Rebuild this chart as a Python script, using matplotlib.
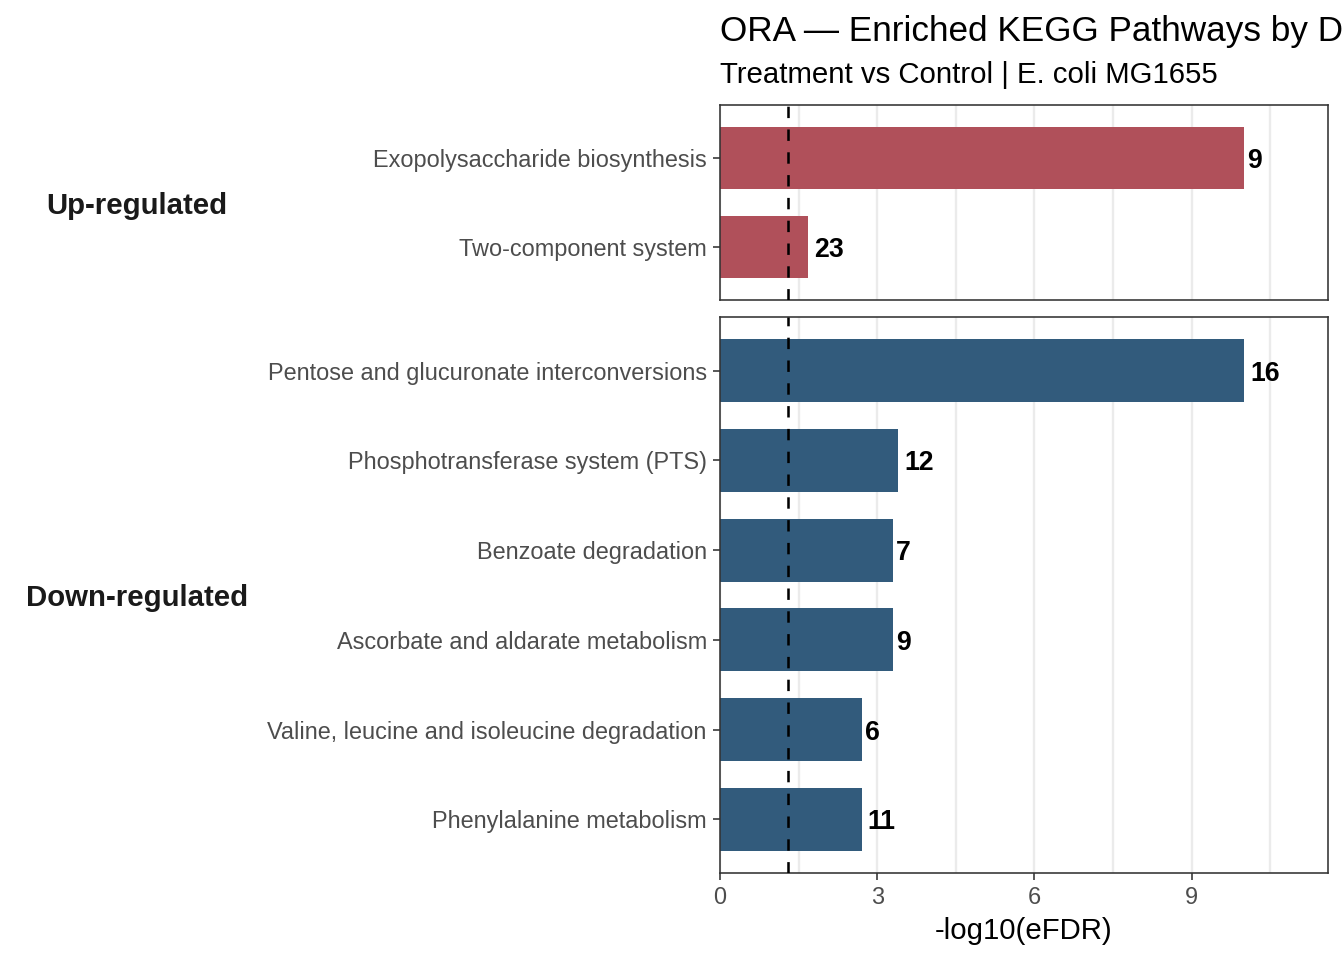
import matplotlib
matplotlib.use("Agg")
import matplotlib.pyplot as plt
import matplotlib.transforms as mtransforms
from matplotlib.ticker import MultipleLocator

plt.rcParams['font.family'] = ['Liberation Sans', 'DejaVu Sans']

up_pathways = ["Exopolysaccharide biosynthesis", "Two-component system"]
up_values = [10.0, 1.68]
up_counts = [9, 23]

down_pathways = ["Pentose and glucuronate interconversions",
                 "Phosphotransferase system (PTS)",
                 "Benzoate degradation",
                 "Ascorbate and aldarate metabolism",
                 "Valine, leucine and isoleucine degradation",
                 "Phenylalanine metabolism"]
down_values = [10.0, 3.40, 3.30, 3.30, 2.71, 2.71]
down_counts = [16, 12, 7, 9, 6, 11]

groups = ["Up-regulated", "Down-regulated"]
threshold = 1.30
title = "ORA \u2014 Enriched KEGG Pathways by Direction"
subtitle = "Treatment vs Control | E. coli MG1655"
xlabel = "-log10(eFDR)"

UP_COLOR = "#B0505A"
DOWN_COLOR = "#325B7C"

W, H = 1344, 960
DPI = 192
fig = plt.figure(figsize=(W / DPI, H / DPI), dpi=DPI)

def px_rect(l, t, r, b):
    return [l / W, 1 - b / H, (r - l) / W, (b - t) / H]

ax_up = fig.add_axes(px_rect(720, 105, 1328, 300))
ax_dn = fig.add_axes(px_rect(720, 317, 1328, 873))

count_texts = []

def draw(ax, names, vals, counts, color, label, show_x):
    n = len(names)
    ypos = list(range(n, 0, -1))
    ax.set_xlim(0, 11.6)
    ax.set_ylim(0.4, n + 0.6)
    ax.xaxis.set_major_locator(MultipleLocator(3))
    ax.xaxis.set_minor_locator(MultipleLocator(1.5))
    ax.grid(True, which='major', axis='x', color='#EBEBEB', linewidth=0.9, zorder=0)
    ax.grid(True, which='minor', axis='x', color='#EBEBEB', linewidth=0.9, zorder=0)
    ax.set_axisbelow(True)
    ax.barh(ypos, vals, height=0.7, color=color, zorder=2)
    ax.axvline(threshold, color='black', linestyle=(0, (4.5, 4.5)), linewidth=0.95, zorder=3)
    for y, v, c in zip(ypos, vals, counts):
        t = ax.text(v, y, str(c), ha='left', va='center_baseline', fontsize=10,
                    fontweight='bold', color='black', zorder=4)
        count_texts.append((ax, t))
    ax.set_yticks(ypos)
    ax.set_yticklabels(names, fontsize=8.8, color='#4D4D4D')
    ax.tick_params(axis='both', which='major', length=2.75, width=0.6, color='#333333')
    ax.tick_params(axis='y', pad=2.2)
    ax.tick_params(axis='both', which='minor', length=0)
    ax.tick_params(axis='x', labelsize=8.8, labelcolor='#4D4D4D', pad=2.2)
    for s in ax.spines.values():
        s.set_color('#333333')
        s.set_linewidth(0.6)
    if not show_x:
        ax.tick_params(axis='x', which='major', length=0, labelbottom=False)
    else:
        ax.set_xlabel(xlabel, fontsize=11, color='black', labelpad=3)
    bb = ax.get_position()
    fig.text(137 / W, bb.y0 + bb.height / 2, label, ha='center', va='center_baseline',
             fontsize=11, fontweight='bold', color='#1A1A1A')

draw(ax_up, up_pathways, up_values, up_counts, UP_COLOR, groups[0], False)
draw(ax_dn, down_pathways, down_values, down_counts, DOWN_COLOR, groups[1], True)

fig.text(720 / W, 1 - 41 / H, title, ha='left', va='baseline', fontsize=13.2, color='black')
fig.text(720 / W, 1 - 83 / H, subtitle, ha='left', va='baseline', fontsize=11, color='black')

# ggplot-like hjust = -0.2 for count labels
fig.canvas.draw()
renderer = fig.canvas.get_renderer()
for ax, t in count_texts:
    w = t.get_window_extent(renderer).width
    t.set_transform(ax.transData + mtransforms.Affine2D().translate(0.2 * w, 0))

fig.savefig("out.png", dpi=DPI)
